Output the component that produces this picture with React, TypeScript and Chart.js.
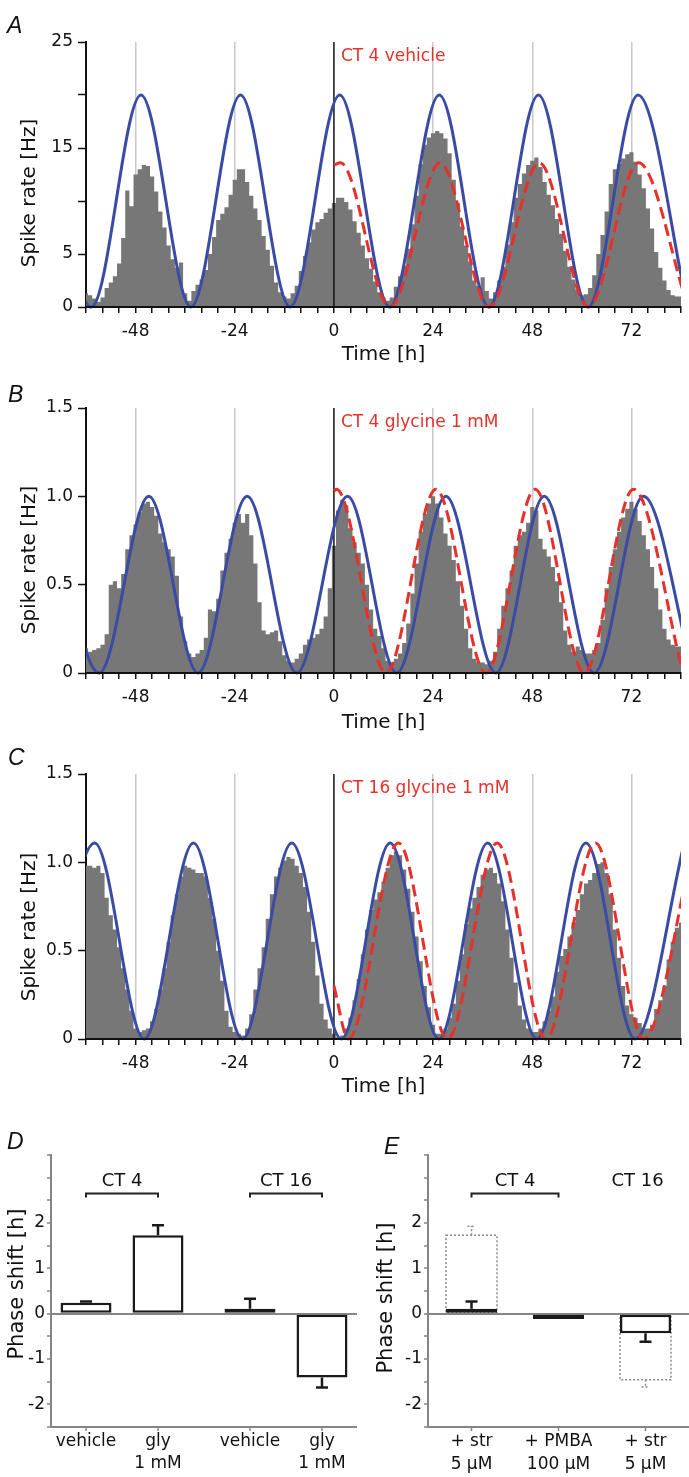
import React, { useEffect, useRef } from "react";
import { Chart, registerables } from "chart.js";

Chart.register(...registerables);

const FONT = "'DejaVu Sans', 'Liberation Sans', sans-serif";
Chart.defaults.font.family = FONT;
Chart.defaults.color = "#111";

const HIST_GRAY = "#777777";
const BLUE = "#3a4ba6";
const RED = "#e8302a";
const AXIS_GRAY = "#858585";

// ---------- Panels A–C : spike-rate histograms, 1 h bins centred on the hour ----------
const BIN_HOURS_FROM = -60;

const HIST_A = [
  1.3, 1.1, 0.8, 0.5, 0.9, 1.8, 2.3, 2.9, 4.1, 6.5,
  11.0, 9.5, 12.5, 13.0, 13.4, 13.3, 12.3, 10.9, 9.0, 7.5,
  5.8, 4.5, 3.7, 4.2, 1.3, 0.6, 1.5, 2.1, 2.6, 3.5,
  5.0, 6.6, 8.2, 8.8, 9.4, 10.6, 12.0, 13.0, 13.0, 11.8,
  10.5, 9.3, 8.2, 6.7, 5.4, 3.9, 2.3, 1.4, 1.0, 0.8,
  1.3, 2.0, 3.4, 4.8, 6.1, 7.3, 8.0, 8.3, 8.9, 9.3,
  9.8, 10.3, 10.3, 9.9, 9.2, 8.1, 7.0, 5.8, 4.6, 3.6,
  2.4, 1.4, 0.9, 0.6, 0.9, 1.9, 2.9, 3.9, 5.5, 7.8,
  10.5, 13.5, 15.3, 16.0, 16.4, 16.6, 16.4, 15.9, 14.5, 12.0,
  9.8, 7.6, 5.8, 4.3, 2.5, 2.0, 2.8, 1.5, 0.8, 1.4,
  2.5, 3.8, 5.9, 8.0, 10.3, 11.6, 12.6, 13.4, 13.8, 14.1,
  13.2, 11.8, 10.6, 9.6, 8.3, 6.9, 5.3, 3.8, 2.6, 1.6,
  1.1, 1.2, 1.8, 3.0, 5.0, 6.8, 9.0, 11.6, 13.0, 13.5,
  14.0, 14.4, 14.6, 13.7, 12.5, 11.2, 9.3, 7.4, 5.2, 3.7,
  2.5, 1.6, 1.1, 1.0, 1.0,
];

const HIST_B = [
  0.14, 0.12, 0.13, 0.14, 0.16, 0.22, 0.5, 0.52, 0.48, 0.56,
  0.7, 0.78, 0.84, 0.91, 0.96, 0.97, 0.94, 0.89, 0.79, 0.74,
  0.7, 0.66, 0.55, 0.32, 0.18, 0.11, 0.09, 0.11, 0.13, 0.2,
  0.36, 0.35, 0.42, 0.58, 0.68, 0.76, 0.85, 0.9, 0.85, 0.9,
  0.78, 0.62, 0.4, 0.24, 0.22, 0.23, 0.24, 0.18, 0.1, 0.07,
  0.06, 0.08, 0.11, 0.16, 0.19, 0.2, 0.22, 0.25, 0.32, 0.48,
  0.72, 0.92, 0.98, 0.95, 0.82, 0.74, 0.68, 0.62, 0.5, 0.36,
  0.25, 0.21, 0.14, 0.07, 0.06, 0.08, 0.11, 0.17, 0.28, 0.45,
  0.62, 0.8, 0.9, 0.96, 1.0, 0.96, 0.88, 0.79, 0.72, 0.64,
  0.52, 0.38, 0.25, 0.14, 0.08, 0.06, 0.06, 0.05, 0.07, 0.12,
  0.25, 0.38, 0.48, 0.58, 0.72, 0.78, 0.8, 0.85, 0.94, 0.92,
  0.76, 0.7, 0.66, 0.6, 0.52, 0.4, 0.24, 0.16, 0.12, 0.15,
  0.13, 0.11, 0.11, 0.13, 0.17, 0.3, 0.48, 0.6, 0.7, 0.8,
  0.88, 0.93, 0.97, 0.93, 0.86, 0.78, 0.7, 0.6, 0.48, 0.36,
  0.25, 0.19, 0.16, 0.15, 0.15,
];

const HIST_C = [
  0.98, 0.98, 0.97, 0.98, 0.94, 0.8, 0.7, 0.62, 0.52, 0.4,
  0.28, 0.16, 0.06, 0.04, 0.05, 0.06, 0.1, 0.17, 0.28, 0.4,
  0.55, 0.7, 0.82, 0.92, 0.98, 0.97, 0.96, 0.94, 0.94, 0.92,
  0.8, 0.68, 0.5, 0.33, 0.16, 0.07, 0.04, 0.03, 0.02, 0.06,
  0.14, 0.28, 0.4, 0.52, 0.68, 0.82, 0.92, 0.97, 1.01, 1.03,
  1.02, 0.98, 0.94, 0.86, 0.72, 0.55, 0.36, 0.2, 0.11, 0.06,
  0.03, 0.01, 0.02, 0.06, 0.12, 0.22, 0.34, 0.48, 0.62, 0.73,
  0.79, 0.83, 0.89, 0.97, 1.04, 1.06, 1.04, 0.96, 0.85, 0.72,
  0.58, 0.44, 0.3, 0.18, 0.08, 0.03, 0.03, 0.06, 0.12, 0.2,
  0.33, 0.48, 0.65, 0.74, 0.8, 0.86, 0.93, 0.96, 0.97, 0.94,
  0.88, 0.78, 0.62, 0.46, 0.32, 0.19, 0.11, 0.06, 0.04, 0.04,
  0.06, 0.1, 0.16, 0.24, 0.38, 0.47, 0.51, 0.58, 0.66, 0.73,
  0.82, 0.88, 0.9, 0.94, 0.99, 1.0, 0.94, 0.82, 0.62, 0.46,
  0.3, 0.19, 0.14, 0.12, 0.09, 0.06, 0.06, 0.08, 0.17, 0.22,
  0.3, 0.45, 0.55, 0.63, 0.66,
];

// Fitted rhythms: successive peaks / troughs (time h, rate)
const FIT_A_BLUE_T = [-70.7, -58.7, -46.7, -34.6, -22.6, -10.6, 1.4, 13.5, 25.5, 37.5, 49.5, 61.5, 73.6, 85.6];
const FIT_A_BLUE_V = [20, 0, 20, 0, 20, 0, 20, 0, 20, 0, 20, 0, 20, 0];
const FIT_A_RED_T = [0, 1.6, 13.6, 25.7, 37.6, 49.7, 61.6, 73.7, 85.7];
const FIT_A_RED_V = [13.4, 13.6, 0, 13.6, 0, 13.6, 0, 13.6, 0];

const FIT_B_BLUE_T = [-68.8, -56.8, -44.8, -32.9, -21.0, -9.0, 3.3, 15.2, 27.1, 39.2, 50.9, 63.0, 74.9, 86.9];
const FIT_B_BLUE_V = [1, 0, 1, 0, 1, 0, 1, 0, 1, 0, 1, 0, 1, 0];
const FIT_B_RED_T = [0, 0.6, 12.6, 24.7, 36.8, 48.7, 60.6, 72.5, 84.5];
const FIT_B_RED_V = [1.03, 1.04, 0, 1.04, 0, 1.04, 0, 1.04, 0];

const FIT_C_BLUE_T = [-69.9, -57.9, -45.9, -34.0, -22.1, -10.2, 1.8, 13.6, 25.4, 37.2, 49.1, 61.0, 72.9, 84.8];
const FIT_C_BLUE_V = [0, 1.11, 0, 1.11, 0, 1.11, 0, 1.11, 0, 1.11, 0, 1.11, 0, 1.11];
const FIT_C_RED_T = [0, 3.5, 15.6, 27.5, 39.5, 51.3, 63.3, 75.0, 87.1];
const FIT_C_RED_V = [0.3, 0, 1.11, 0, 1.11, 0, 1.11, 0, 1.11];

const Y_TICKS_A = [0, 5, 10, 15, 20, 25];
const Y_LABELS_A = ["0", "5", "", "15", "", "25"];
const Y_TICKS_BC = [0, 0.5, 1, 1.5];
const Y_LABELS_BC = ["0", "0.5", "1.0", "1.5"];

// ---------- Panel D ----------
const D_GROUPS = ["CT 4", "CT 16"];
const D_TREATMENTS = [["vehicle"], ["gly", "1 mM"]];
const D_VEHICLE = [0.24, 0.11];
const D_VEHICLE_SEM = [0.03, 0.22];
const D_GLY = [1.73, -1.41];
const D_GLY_SEM = [0.22, 0.22];

// ---------- Panel E ----------
const E_LABELS = [["+ str", "5 µM"], ["+ PMBA", "100 µM"], ["+ str", "5 µM"]];
const E_VALUES = [0.11, -0.12, -0.43];
const E_SEM = [0.16, 0, 0.19];
const E_GLY_REF = [1.73, null, -1.46];
const E_GLY_REF_SEM = [0.2, null, 0.16];
const E_BRACKETS = [{ text: "CT 4", from: 0, to: 1 }, { text: "CT 16", from: 2, to: 2 }];

const TRANSPARENT = "rgba(0,0,0,0)";

function histConfig(p: any) {
  const pts = (t: number[], v: number[]) => t.map((x, i) => ({ x, y: v[i] }));
  const hist = p.hist.map((y: number, i: number) => ({ x: BIN_HOURS_FROM + i, y }));
  const curveClip = { left: 0, right: 0, top: 4, bottom: 4 };
  const annot = {
    id: "annot",
    afterDatasetsDraw(chart: any) {
      const { ctx, chartArea } = chart;
      ctx.save();
      ctx.strokeStyle = "#111";
      ctx.lineWidth = 2;
      ctx.beginPath();
      ctx.moveTo(chartArea.left, chartArea.bottom);
      ctx.lineTo(chartArea.right, chartArea.bottom);
      ctx.stroke();
      ctx.restore();
    },
    afterDraw(chart: any) {
      const { ctx, chartArea, scales } = chart;
      ctx.save();
      ctx.fillStyle = RED;
      ctx.font = `17px ${FONT}`;
      ctx.textAlign = "left";
      ctx.textBaseline = "middle";
      ctx.fillText(p.note, scales.x.getPixelForValue(0) + 7, chartArea.top + 15);
      ctx.fillStyle = "#111";
      ctx.font = `20px ${FONT}`;
      ctx.translate(30, p.titleY);
      ctx.rotate(-Math.PI / 2);
      ctx.textAlign = "center";
      ctx.fillText("Spike rate [Hz]", 0, 0);
      ctx.restore();
    },
  };
  return {
    type: "line",
    data: {
      datasets: [
        {
          data: pts(p.redT, p.redV), borderColor: RED, borderWidth: 3, borderDash: [12, 6],
          pointRadius: 0, cubicInterpolationMode: "monotone", capBezierPoints: false, fill: false, order: 0, clip: curveClip,
        },
        {
          data: pts(p.blueT, p.blueV), borderColor: BLUE, borderWidth: 3,
          pointRadius: 0, cubicInterpolationMode: "monotone", capBezierPoints: false, fill: false, order: 1, clip: curveClip,
        },
        {
          data: [{ x: 0, y: 0 }, { x: 0, y: p.yMax }], borderColor: "#111", borderWidth: 1.5,
          pointRadius: 0, fill: false, order: 2,
        },
        {
          data: hist, stepped: "middle", fill: "origin", backgroundColor: HIST_GRAY,
          borderColor: TRANSPARENT, borderWidth: 1, pointRadius: 0, order: 3,
        },
      ],
    },
    options: {
      responsive: false,
      animation: false,
      events: [],
      layout: { padding: { top: p.padTop, left: 0, right: 0, bottom: 0 } },
      plugins: { legend: { display: false }, tooltip: { enabled: false } },
      scales: {
        x: {
          type: "linear", min: -60, max: 84,
          ticks: {
            stepSize: 4, autoSkip: false, maxRotation: 0, padding: 8, color: "#111",
            font: { size: 17 },
            callback: (v: number) => (v % 24 === 0 ? String(v) : ""),
          },
          grid: {
            drawOnChartArea: true,
            color: (c: any) => (c.tick && c.tick.value % 24 === 0 && c.tick.value !== 0 ? "#c9c9c9" : TRANSPARENT),
            lineWidth: 1.5, tickLength: 6, tickColor: "#111", tickWidth: 1.5,
          },
          border: { color: "#111", width: 2 },
          title: { display: true, text: "Time [h]", font: { size: 20 }, color: "#111", padding: { top: 0, bottom: 3 } },
          afterFit: (s: any) => { s.height = p.xAxisH; },
        },
        y: {
          type: "linear", min: 0, max: p.yMax,
          afterBuildTicks: (s: any) => { s.ticks = p.yTicks.map((v: number) => ({ value: v })); },
          ticks: {
            autoSkip: false, padding: 5, color: "#111", font: { size: 17 },
            callback: (v: number) => { const i = p.yTicks.indexOf(v); return i >= 0 ? p.yLabels[i] : ""; },
          },
          grid: { drawOnChartArea: false, tickLength: 8, tickColor: "#111", tickWidth: 1.5 },
          border: { color: "#111", width: 2 },
          afterFit: (s: any) => { s.width = 86; },
        },
      },
    },
    plugins: [annot],
  };
}

function phaseYScale() {
  return {
    type: "linear", min: -2.5, max: 3.5,
    ticks: {
      stepSize: 0.5, autoSkip: false, padding: 2, color: "#111", font: { size: 17 },
      callback: (v: number) => (Number.isInteger(v) && Math.abs(v) <= 2 ? String(v) : ""),
    },
    grid: {
      color: (c: any) => (c.tick && c.tick.value === 0 ? AXIS_GRAY : TRANSPARENT),
      lineWidth: 2, tickLength: 4, tickColor: AXIS_GRAY, tickWidth: 1.5,
    },
    border: { color: AXIS_GRAY, width: 2 },
  };
}

function drawErr(ctx: any, x: number, from: number, to: number, cap: number) {
  ctx.beginPath();
  ctx.moveTo(x, from);
  ctx.lineTo(x, to);
  ctx.moveTo(x - cap, to);
  ctx.lineTo(x + cap, to);
  ctx.stroke();
}

function drawRotTitle(ctx: any, text: string, x: number, y: number) {
  ctx.save();
  ctx.fillStyle = "#111";
  ctx.font = `21px ${FONT}`;
  ctx.translate(x, y);
  ctx.rotate(-Math.PI / 2);
  ctx.textAlign = "center";
  ctx.textBaseline = "middle";
  ctx.fillText(text, 0, 0);
  ctx.restore();
}

function drawBracket(ctx: any, yScale: any, x1: number, x2: number, text: string, textX: number, withLine: boolean) {
  const yb = yScale.getPixelForValue(2.65);
  const yt = yScale.getPixelForValue(2.92);
  ctx.save();
  if (withLine) {
    ctx.strokeStyle = "#222";
    ctx.lineWidth = 2;
    ctx.beginPath();
    ctx.moveTo(x1, yb + 4);
    ctx.lineTo(x1, yb);
    ctx.lineTo(x2, yb);
    ctx.lineTo(x2, yb + 4);
    ctx.stroke();
  }
  ctx.fillStyle = "#111";
  ctx.font = `18px ${FONT}`;
  ctx.textAlign = "center";
  ctx.textBaseline = "middle";
  ctx.fillText(text, textX, yt);
  ctx.restore();
}

function dConfig() {
  const ds = (vals: number[]) => vals.map((y, i) => ({ x: i, y }));
  const barStyle = {
    backgroundColor: "#fff", borderColor: "#1a1a1a", borderWidth: 2.5, borderSkipped: false,
    categoryPercentage: 0.878, barPercentage: 0.708,
  };
  const decor = {
    id: "dDecor",
    afterDatasetsDraw(chart: any) {
      const { ctx, scales } = chart;
      ctx.save();
      ctx.strokeStyle = "#1a1a1a";
      ctx.lineWidth = 2.5;
      [[D_VEHICLE, D_VEHICLE_SEM], [D_GLY, D_GLY_SEM]].forEach(([vals, sems], di) => {
        chart.getDatasetMeta(di).data.forEach((el: any, j: number) => {
          const v = vals[j], s = sems[j];
          if (!s) return;
          drawErr(ctx, el.x, el.y, scales.y.getPixelForValue(v + Math.sign(v) * s), 6);
        });
      });
      ctx.restore();
    },
    afterDraw(chart: any) {
      const { ctx, chartArea, scales } = chart;
      const bottom = chartArea.bottom;
      ctx.save();
      ctx.font = `17px ${FONT}`;
      ctx.fillStyle = "#111";
      ctx.textAlign = "center";
      ctx.textBaseline = "middle";
      ctx.strokeStyle = AXIS_GRAY;
      ctx.lineWidth = 1.5;
      [0, 1].forEach((di) => {
        chart.getDatasetMeta(di).data.forEach((el: any) => {
          D_TREATMENTS[di].forEach((line, k) => ctx.fillText(line, el.x, bottom + 15 + k * 22));
          ctx.beginPath();
          ctx.moveTo(el.x, bottom);
          ctx.lineTo(el.x, bottom + 4);
          ctx.stroke();
        });
      });
      ctx.restore();
      D_GROUPS.forEach((g, j) => {
        const x1 = chart.getDatasetMeta(0).data[j].x;
        const x2 = chart.getDatasetMeta(1).data[j].x;
        drawBracket(ctx, scales.y, x1, x2, g, (x1 + x2) / 2, true);
      });
      drawRotTitle(ctx, "Phase shift [h]", 18, 184);
    },
  };
  return {
    type: "bar",
    data: {
      datasets: [
        { data: ds(D_VEHICLE), ...barStyle },
        { data: ds(D_GLY), ...barStyle },
      ],
    },
    options: {
      responsive: false,
      animation: false,
      events: [],
      layout: { padding: { top: 55, left: 0, right: 0, bottom: 0 } },
      plugins: { legend: { display: false }, tooltip: { enabled: false } },
      scales: {
        x: {
          type: "linear", min: -0.433, max: 1.433, offset: false,
          afterBuildTicks: (s: any) => { s.ticks = D_GROUPS.map((_, i) => ({ value: i })); },
          ticks: { display: false },
          grid: { display: false, offset: false },
          border: { color: AXIS_GRAY, width: 2 },
          afterFit: (s: any) => { s.height = 50; },
        },
        y: { ...phaseYScale(), afterFit: (s: any) => { s.width = 51; } },
      },
    },
    plugins: [decor],
  };
}

function eConfig() {
  const decor = {
    id: "eDecor",
    beforeDatasetsDraw(chart: any) {
      const { ctx, scales } = chart;
      ctx.save();
      ctx.strokeStyle = "#8a8a8a";
      ctx.lineWidth = 1.5;
      ctx.setLineDash([2, 2]);
      chart.getDatasetMeta(1).data.forEach((el: any, j: number) => {
        const v = E_GLY_REF[j];
        if (v == null) return;
        const { x, y, base, width } = el.getProps(["x", "y", "base", "width"], true);
        ctx.strokeRect(x - width / 2, Math.min(y, base), width, Math.abs(base - y));
        const s = E_GLY_REF_SEM[j] as number;
        drawErr(ctx, x, y, scales.y.getPixelForValue(v + Math.sign(v) * s), 4);
      });
      ctx.restore();
    },
    afterDatasetsDraw(chart: any) {
      const { ctx, scales } = chart;
      ctx.save();
      ctx.strokeStyle = "#1a1a1a";
      ctx.lineWidth = 2.5;
      chart.getDatasetMeta(0).data.forEach((el: any, j: number) => {
        const v = E_VALUES[j], s = E_SEM[j];
        if (!s) return;
        drawErr(ctx, el.x, el.y, scales.y.getPixelForValue(v + Math.sign(v) * s), 6);
      });
      ctx.restore();
    },
    afterDraw(chart: any) {
      const { ctx, scales } = chart;
      E_BRACKETS.forEach((b) => {
        const x1 = scales.x.getPixelForValue(b.from);
        const x2 = scales.x.getPixelForValue(b.to);
        const single = b.from === b.to;
        drawBracket(ctx, scales.y, x1, x2, b.text, single ? x1 - 8 : (x1 + x2) / 2, !single);
      });
      drawRotTitle(ctx, "Phase shift [h]", 22, 198);
    },
  };
  return {
    type: "bar",
    data: {
      labels: E_LABELS,
      datasets: [
        {
          data: E_VALUES, backgroundColor: "#fff", borderColor: "#1a1a1a", borderWidth: 2.5, borderSkipped: false,
          grouped: false, order: 0, categoryPercentage: 1, barPercentage: 0.586,
        },
        {
          data: E_GLY_REF, backgroundColor: TRANSPARENT, borderWidth: 0,
          grouped: false, order: 1, categoryPercentage: 1, barPercentage: 0.586,
        },
      ],
    },
    options: {
      responsive: false,
      animation: false,
      events: [],
      layout: { padding: { top: 55, left: 0, right: 0, bottom: 0 } },
      plugins: { legend: { display: false }, tooltip: { enabled: false } },
      scales: {
        x: {
          type: "category", offset: true,
          ticks: { autoSkip: false, maxRotation: 0, padding: 0, color: "#111", font: { size: 17, lineHeight: 1.3 } },
          grid: { display: true, drawOnChartArea: false, offset: false, tickLength: 4, tickColor: AXIS_GRAY, tickWidth: 1.5, color: AXIS_GRAY },
          border: { color: AXIS_GRAY, width: 2 },
          afterFit: (s: any) => { s.height = 50; },
        },
        y: { ...phaseYScale(), afterFit: (s: any) => { s.width = 63; } },
      },
    },
    plugins: [decor],
  };
}

const PANEL_A = {
  hist: HIST_A, blueT: FIT_A_BLUE_T, blueV: FIT_A_BLUE_V, redT: FIT_A_RED_T, redV: FIT_A_RED_V,
  yMax: 25, yTicks: Y_TICKS_A, yLabels: Y_LABELS_A, note: "CT 4 vehicle", padTop: 42, xAxisH: 63, titleY: 193,
};
const PANEL_B = {
  hist: HIST_B, blueT: FIT_B_BLUE_T, blueV: FIT_B_BLUE_V, redT: FIT_B_RED_T, redV: FIT_B_RED_V,
  yMax: 1.5, yTicks: Y_TICKS_BC, yLabels: Y_LABELS_BC, note: "CT 4 glycine 1 mM", padTop: 28, xAxisH: 65, titleY: 180,
};
const PANEL_C = {
  hist: HIST_C, blueT: FIT_C_BLUE_T, blueV: FIT_C_BLUE_V, redT: FIT_C_RED_T, redV: FIT_C_RED_V,
  yMax: 1.5, yTicks: Y_TICKS_BC, yLabels: Y_LABELS_BC, note: "CT 16 glycine 1 mM", padTop: 34, xAxisH: 63, titleY: 187,
};

const letterStyle = (left: number, top: number): React.CSSProperties => ({
  position: "absolute", left, top, fontFamily: "'Liberation Sans', Arial, sans-serif", fontStyle: "italic",
  fontSize: 23, lineHeight: "23px", color: "#111",
});

export default function App() {
  const refA = useRef<HTMLCanvasElement>(null);
  const refB = useRef<HTMLCanvasElement>(null);
  const refC = useRef<HTMLCanvasElement>(null);
  const refD = useRef<HTMLCanvasElement>(null);
  const refE = useRef<HTMLCanvasElement>(null);

  useEffect(() => {
    const charts = [
      new Chart(refA.current as any, histConfig(PANEL_A) as any),
      new Chart(refB.current as any, histConfig(PANEL_B) as any),
      new Chart(refC.current as any, histConfig(PANEL_C) as any),
      new Chart(refD.current as any, dConfig() as any),
      new Chart(refE.current as any, eConfig() as any),
    ];
    return () => charts.forEach((c) => c.destroy());
  }, []);

  return (
    <div style={{ position: "absolute", left: 0, top: 0, width: 689, height: 1477, background: "#fff", overflow: "hidden" }}>
      <canvas ref={refA} width={689} height={370} style={{ position: "absolute", left: 0, top: 0 }} />
      <canvas ref={refB} width={689} height={358} style={{ position: "absolute", left: 0, top: 380 }} />
      <canvas ref={refC} width={689} height={362} style={{ position: "absolute", left: 0, top: 740 }} />
      <canvas ref={refD} width={357} height={377} style={{ position: "absolute", left: 0, top: 1100 }} />
      <canvas ref={refE} width={324} height={377} style={{ position: "absolute", left: 365, top: 1100 }} />
      <div style={letterStyle(7, 14)}>A</div>
      <div style={letterStyle(8, 383)}>B</div>
      <div style={letterStyle(8, 746)}>C</div>
      <div style={letterStyle(7, 1130)}>D</div>
      <div style={letterStyle(384, 1135)}>E</div>
    </div>
  );
}
